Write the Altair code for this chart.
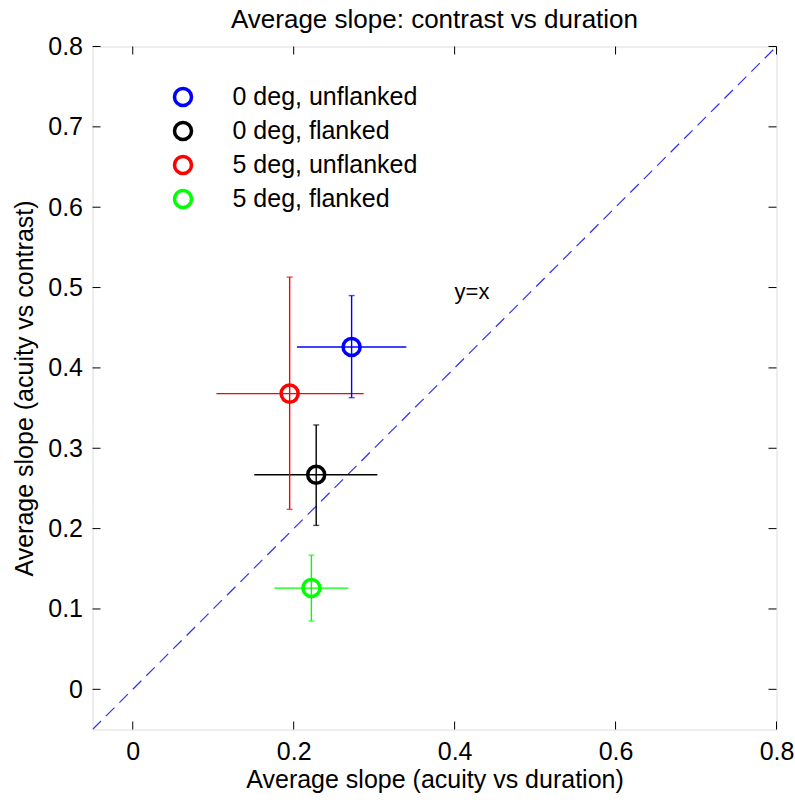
import altair as alt
import pandas as pd

# ---- data ----
conditions = ["0 deg, unflanked", "0 deg, flanked", "5 deg, unflanked", "5 deg, flanked"]
colors = ["#0000ff", "#000000", "#ff0000", "#00ff00"]
x_mean = [0.272, 0.228, 0.195, 0.222]
x_lo = [0.204, 0.151, 0.104, 0.176]
x_hi = [0.340, 0.304, 0.287, 0.268]
y_mean = [0.426, 0.267, 0.368, 0.126]
y_lo = [0.363, 0.204, 0.224, 0.085]
y_hi = [0.490, 0.329, 0.513, 0.167]

diag = [-0.05, 0.8]
x_ticks = [0, 0.2, 0.4, 0.6, 0.8]
y_ticks = [0, 0.1, 0.2, 0.3, 0.4, 0.5, 0.6, 0.7, 0.8]
annot_text = ["y=x"]
annot_x = [0.4]
annot_y = [0.495]

df = pd.DataFrame({"cond": conditions, "x": x_mean, "xlo": x_lo, "xhi": x_hi,
                   "y": y_mean, "ylo": y_lo, "yhi": y_hi})
diag_df = pd.DataFrame({"x": diag, "y": diag})
xt_df = pd.DataFrame({"v": x_ticks})
yt_df = pd.DataFrame({"v": y_ticks})
ann_df = pd.DataFrame({"t": annot_text, "x": annot_x, "y": annot_y})

W, H = 684, 683
FONT = "Liberation Sans"
FS = 25

xscale = alt.Scale(domain=[-0.05, 0.8], nice=False, zero=False)
yscale = alt.Scale(domain=[-0.05, 0.8], nice=False, zero=False)
cscale = alt.Scale(domain=conditions, range=colors)

xaxis = alt.Axis(values=x_ticks, format="~g", tickSize=0, domain=False, grid=False,
                 labelFontSize=FS, labelFont=FONT, labelColor="black", labelPadding=10,
                 labelFlush=False, title="Average slope (acuity vs duration)",
                 titleFontSize=FS, titleFont=FONT, titleFontWeight="normal",
                 titleColor="black", titlePadding=3)
yaxis = alt.Axis(values=y_ticks, format="~g", tickSize=0, domain=False, grid=False,
                 labelFontSize=FS, labelFont=FONT, labelColor="black", labelPadding=10,
                 labelFlush=False, title="Average slope (acuity vs contrast)",
                 titleFontSize=FS, titleFont=FONT, titleFontWeight="normal",
                 titleColor="black", titlePadding=10)

base = alt.Chart(df)

diag_line = alt.Chart(diag_df).mark_line(color="#2f2fff", strokeWidth=1.2,
                                          strokeDash=[12, 7], clip=True).encode(
    x=alt.X("x:Q", scale=xscale, axis=xaxis),
    y=alt.Y("y:Q", scale=yscale, axis=yaxis),
)

hbars = base.mark_rule(strokeWidth=1.4).encode(
    x=alt.X("xlo:Q", scale=xscale), x2="xhi:Q", y=alt.Y("y:Q", scale=yscale),
    color=alt.Color("cond:N", scale=cscale, legend=None),
)
vbars = base.mark_rule(strokeWidth=1.4).encode(
    x=alt.X("x:Q", scale=xscale), y=alt.Y("ylo:Q", scale=yscale), y2="yhi:Q",
    color=alt.Color("cond:N", scale=cscale, legend=None),
)
cap_lo = base.mark_tick(orient="horizontal", size=6, thickness=1.4).encode(
    x=alt.X("x:Q", scale=xscale), y=alt.Y("ylo:Q", scale=yscale),
    color=alt.Color("cond:N", scale=cscale, legend=None),
)
cap_hi = base.mark_tick(orient="horizontal", size=6, thickness=1.4).encode(
    x=alt.X("x:Q", scale=xscale), y=alt.Y("yhi:Q", scale=yscale),
    color=alt.Color("cond:N", scale=cscale, legend=None),
)
points = base.mark_point(shape="circle", filled=False, size=290, strokeWidth=3.5,
                         opacity=1).encode(
    x=alt.X("x:Q", scale=xscale), y=alt.Y("y:Q", scale=yscale),
    color=alt.Color("cond:N", scale=cscale, sort=conditions,
                    legend=alt.Legend(title=None, orient="none", legendX=78, legendY=38,
                                      labelFontSize=FS, labelFont=FONT, labelColor="black",
                                      labelLimit=500, labelOffset=37, rowPadding=1,
                                      symbolSize=290, symbolStrokeWidth=3.5,
                                      symbolType="circle", padding=0)),
)

ann = alt.Chart(ann_df).mark_text(align="left", baseline="middle", fontSize=22,
                                   font=FONT, color="black").encode(
    x=alt.X("x:Q", scale=xscale), y=alt.Y("y:Q", scale=yscale), text="t:N")

TL = 8
tick_bottom = alt.Chart(xt_df).mark_rule(color="black", strokeWidth=1).encode(
    x=alt.X("v:Q", scale=xscale), y=alt.value(H), y2=alt.value(H - TL))
tick_top = alt.Chart(xt_df).mark_rule(color="black", strokeWidth=1).encode(
    x=alt.X("v:Q", scale=xscale), y=alt.value(0), y2=alt.value(TL))
tick_left = alt.Chart(yt_df).mark_rule(color="black", strokeWidth=1).encode(
    y=alt.Y("v:Q", scale=yscale), x=alt.value(0), x2=alt.value(TL))
tick_right = alt.Chart(yt_df).mark_rule(color="black", strokeWidth=1).encode(
    y=alt.Y("v:Q", scale=yscale), x=alt.value(W - TL), x2=alt.value(W))

chart = alt.layer(
    diag_line, hbars, vbars, cap_lo, cap_hi, points, ann,
    tick_bottom, tick_top, tick_left, tick_right,
).resolve_scale(color="independent").properties(
    width=W, height=H,
    title=alt.Title("Average slope: contrast vs duration", fontSize=26, font=FONT,
                    fontWeight="normal", color="black", offset=2, anchor="middle"),
    autosize=alt.AutoSizeParams(type="none"),
    padding={"left": 92.5, "top": 46.5, "right": 18.5, "bottom": 73.5},
).configure_view(
    stroke="black", strokeWidth=1
).configure(background="white")

chart.save("out.html", embed_options={"renderer": "svg", "actions": False})
